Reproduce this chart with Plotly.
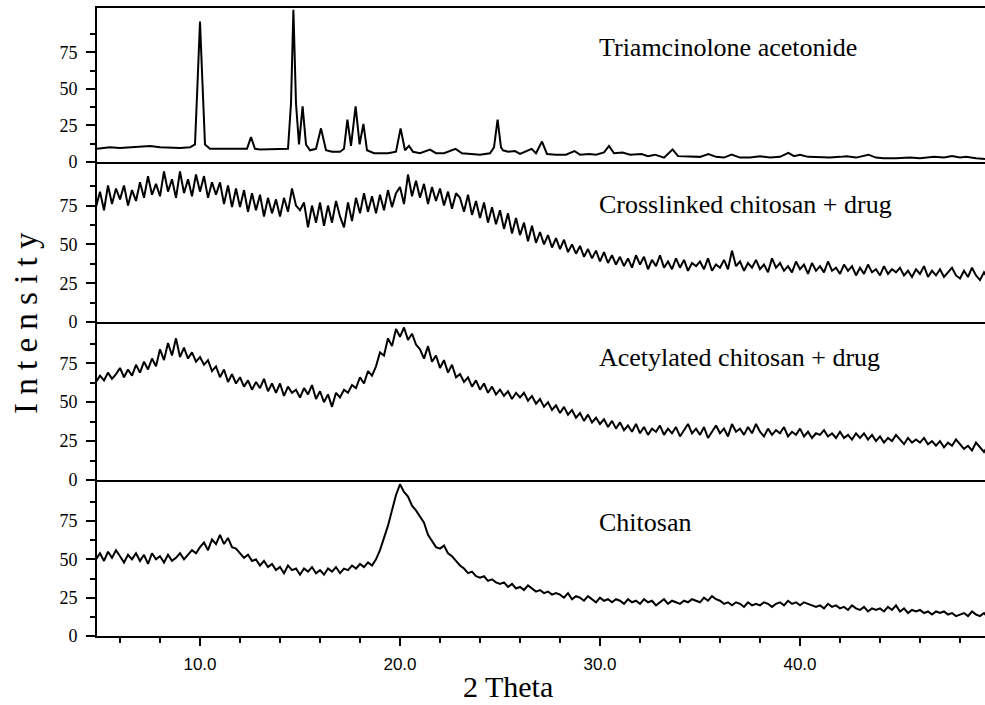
import numpy as np
import plotly.graph_objects as go
from plotly.subplots import make_subplots

# ---------------- data ----------------
# Triamcinolone acetonide: 2-theta / intensity pairs (peaks and baseline)
tri_x = [4.85, 5.5, 6.0, 6.5, 7.0, 7.5, 8.0, 8.5, 9.0, 9.5, 9.75, 9.88, 10.0, 10.12, 10.25,
         10.5, 11.0, 11.5, 12.0, 12.35, 12.55, 12.75, 13.0, 13.5, 14.0, 14.4, 14.55, 14.67,
         14.8, 14.95, 15.13, 15.3, 15.5, 15.8, 16.05, 16.3, 16.6, 17.0, 17.2, 17.37, 17.55,
         17.78, 17.98, 18.17, 18.35, 18.7, 19.0, 19.4, 19.8, 20.03, 20.25, 20.45, 20.65,
         21.0, 21.5, 21.8, 22.2, 22.78, 23.1, 23.5, 24.0, 24.5, 24.7, 24.88, 25.05, 25.15,
         25.4, 25.75, 26.0, 26.58, 26.8, 27.1, 27.35, 27.8, 28.3, 28.72, 29.0, 29.47, 29.8,
         30.2, 30.45, 30.7, 31.13, 31.5, 32.08, 32.4, 32.75, 33.2, 33.63, 33.9, 34.5, 35.0,
         35.42, 35.8, 36.2, 36.58, 37.0, 37.5, 38.0, 38.5, 39.0, 39.42, 39.7, 40.0, 40.4,
         41.0, 41.5, 42.0, 42.33, 42.8, 43.42, 43.8, 44.17, 44.8, 45.5, 46.0, 46.7, 47.2,
         47.6, 48.0, 48.3, 48.8, 49.25]
tri_y = [9, 10, 9.5, 10, 10, 11, 10, 9.5, 9.5, 10, 12, 55, 96, 55, 12,
         9, 9, 9.5, 9, 9, 17, 9, 8.5, 8.5, 8.5, 9, 40, 104,
         40, 12, 38, 12, 8, 9, 23, 8, 7, 7, 9, 29, 11,
         38, 12, 26, 8, 6, 6, 6, 7, 23, 8, 11, 7,
         6, 8.5, 6, 6, 9, 6, 5.5, 5, 6, 10, 29, 10, 8,
         7, 7.5, 5.5, 9, 6, 14, 5.5, 5, 5, 7.5, 5, 5.5, 5,
         6.5, 11, 6, 6.5, 5, 5.5, 4, 5, 3, 8.6, 4, 4, 3.5,
         5.4, 3.5, 3, 5, 3, 3, 4, 3, 3.5, 6.3, 4, 5, 3.5,
         3, 3, 3.5, 4, 3, 5, 3, 2.5, 2.5, 3, 2.5, 3.5, 3,
         4, 3, 3.5, 2.5, 2]

# regular 2-theta sampling of the three chitosan scans
grid_start = 4.8
grid_step = 0.2

crosslinked = [74,
    84, 72, 88, 76, 86,   79, 88, 75, 85, 78,   90, 80, 94, 82, 89,   81, 97, 84, 92, 80,
    97, 83, 92, 81, 95,   84, 94, 80, 90, 82,   90, 76, 88, 74, 86,   74, 85, 71, 83, 72,
    82, 68, 80, 70, 79,   68, 80, 71, 86, 75,   72, 77, 61, 75, 64,   77, 62, 75, 64, 78,
    68, 61, 77, 65, 80,   70, 83, 71, 81, 70,   82, 72, 85, 74, 83,   87, 76, 95, 81, 91,
    80, 89, 76, 87, 78,   86, 75, 84, 73, 83,   80, 71, 82, 69, 78,   67, 77, 64, 74, 63,
    72, 60, 70, 57, 67,   56, 64, 52, 62, 51,   58, 50, 56, 48, 54,   47, 53, 45, 50, 44,
    49, 42, 47, 41, 46,   39, 45, 38, 43, 37,   42, 36, 41, 35, 43,   37, 42, 34, 40, 36,
    43, 35, 39, 34, 41,   35, 40, 33, 38, 36,   39, 34, 41, 33, 37,   35, 40, 34, 46, 36,
    39, 33, 38, 35, 40,   34, 37, 32, 41, 35,   38, 33, 36, 32, 39,   34, 37, 31, 38, 33,
    36, 32, 39, 33, 35,   31, 37, 33, 36, 30,   35, 31, 37, 32, 34,   30, 36, 31, 34, 32,
    35, 30, 33, 29, 34,   31, 36, 29, 33, 30,   34, 29, 32, 35, 30,   28, 33, 29, 35, 30,
    27, 32, 28, 25, 26]

acetylated = [63,
    67, 64, 69, 65, 68,   72, 66, 71, 67, 74,   69, 76, 71, 78, 73,   84, 77, 88, 80, 91,
    79, 85, 78, 82, 76,   79, 74, 77, 70, 73,   66, 71, 63, 68, 62,   66, 60, 64, 58, 63,
    59, 65, 57, 62, 56,   62, 54, 60, 56, 58,   53, 59, 55, 61, 52,   57, 50, 55, 47, 56,
    53, 58, 56, 61, 59,   66, 62, 70, 67, 73,   82, 80, 91, 86, 97,   92, 98, 90, 94, 87,
    84, 78, 86, 76, 80,   72, 77, 69, 74, 66,   68, 63, 66, 60, 64,   58, 62, 56, 60, 55,
    58, 54, 57, 52, 56,   53, 56, 51, 54, 49,   52, 47, 50, 45, 48,   43, 47, 42, 45, 40,
    43, 38, 42, 37, 40,   36, 39, 34, 38, 33,   37, 32, 35, 31, 36,   30, 34, 29, 33, 31,
    35, 29, 33, 30, 34,   28, 32, 36, 30, 33,   29, 34, 27, 31, 35,   30, 33, 28, 36, 31,
    33, 29, 34, 30, 36,   31, 28, 33, 29, 32,   30, 34, 28, 31, 29,   33, 28, 31, 27, 30,
    29, 32, 28, 30, 27,   31, 27, 29, 26, 30,   27, 30, 26, 29, 25,   28, 24, 27, 25, 29,
    26, 23, 27, 24, 26,   24, 27, 23, 25, 22,   25, 21, 24, 22, 26,   23, 20, 22, 19, 24,
    21, 18, 22, 16, 19]

chitosan = [50,
    54, 49, 55, 51, 56,   52, 48, 53, 50, 54,   49, 53, 47, 54, 50,   52, 48, 53, 49, 51,
    54, 50, 53, 56, 54,   58, 61, 56, 63, 60,   66, 60, 64, 58, 57,   54, 51, 53, 49, 50,
    46, 49, 45, 47, 43,   45, 41, 46, 43, 44,   40, 44, 42, 45, 41,   43, 40, 44, 42, 45,
    41, 44, 43, 46, 44,   47, 45, 48, 46, 50,   56, 64, 72, 82, 92,   99, 94, 91, 85, 82,
    78, 74, 66, 62, 58,   57, 59, 54, 52, 49,   46, 44, 41, 42, 39,   38, 39, 36, 37, 35,
    34, 35, 32, 34, 31,   32, 30, 33, 31, 29,   30, 28, 29, 27, 28,   27, 25, 28, 24, 26,
    25, 23, 26, 24, 22,   25, 23, 24, 22, 24,   23, 21, 24, 22, 23,   21, 24, 22, 23, 20,
    22, 24, 21, 23, 22,   21, 23, 22, 24, 23,   22, 25, 23, 26, 24,   23, 21, 22, 20, 22,
    21, 19, 22, 20, 21,   20, 22, 21, 19, 21,   22, 20, 23, 21, 22,   20, 22, 21, 20, 19,
    20, 18, 21, 19, 20,   18, 19, 17, 20, 18,   17, 19, 16, 18, 17,   18, 16, 19, 17, 20,
    16, 18, 15, 17, 16,   17, 15, 16, 14, 16,   15, 16, 14, 15, 13,   14, 15, 13, 16, 14,
    13, 15, 12, 14, 13]

panel_labels = ["Triamcinolone acetonide", "Crosslinked chitosan + drug",
                "Acetylated chitosan + drug", "Chitosan"]
x_tick_vals = [10, 20, 30, 40]
x_tick_text = ["10.0", "20.0", "30.0", "40.0"]
y_tick_vals = [0, 25, 50, 75]
y_minor_vals = [12.5, 37.5, 62.5, 87.5]

# ---------------- figure ----------------
def grid(vals):
    return np.round(grid_start + grid_step * np.arange(len(vals)), 2)

SERIF = "Liberation Serif"
SANS = "Liberation Sans"

fig = make_subplots(rows=4, cols=1, shared_xaxes=True, vertical_spacing=0)

series = [(tri_x, tri_y), (grid(crosslinked), crosslinked),
          (grid(acetylated), acetylated), (grid(chitosan), chitosan)]
for i, (xs, ys) in enumerate(series, start=1):
    fig.add_trace(go.Scatter(x=xs, y=ys, mode="lines",
                             line=dict(color="black", width=2),
                             showlegend=False, hoverinfo="skip"), row=i, col=1)

domains = [[0.7548, 1.0], [0.5, 0.7548], [0.2484, 0.5], [0.0, 0.2484]]
yranges = [[0, 105.3], [0, 103.1], [0, 101.5], [0, 101.8]]
label_y = [78, 75.5, 78.5, 74]

for i in range(1, 5):
    fig.update_yaxes(row=i, col=1, domain=domains[i - 1], range=yranges[i - 1],
                     showline=True, linewidth=2, linecolor="black",
                     showgrid=False, zeroline=False,
                     ticks="outside", tickvals=y_tick_vals, ticklen=9, tickwidth=2,
                     tickcolor="black", ticklabelstandoff=5,
                     tickfont=dict(family=SERIF, size=18, color="black"),
                     minor=dict(tickmode="array", tickvals=y_minor_vals, ticks="outside",
                                ticklen=5, tickwidth=1.5, tickcolor="black", showgrid=False))
    fig.update_xaxes(row=i, col=1, range=[4.85, 49.25],
                     showline=True, linewidth=2, linecolor="black",
                     showgrid=False, zeroline=False, mirror=(i == 1))
    if i < 4:
        fig.update_xaxes(row=i, col=1, showticklabels=False, ticks="")
    else:
        fig.update_xaxes(row=i, col=1, ticks="outside", tickvals=x_tick_vals,
                         ticktext=x_tick_text, ticklen=8, tickwidth=2, tickcolor="black",
                         ticklabelstandoff=4,
                         tickfont=dict(family=SANS, size=17, color="black"),
                         minor=dict(dtick=2, tick0=0, ticks="outside", ticklen=5,
                                    tickwidth=1.5, tickcolor="black", showgrid=False))
    fig.add_annotation(x=29.85, y=label_y[i - 1], xref=f"x{i}" if i > 1 else "x",
                       yref=f"y{i}" if i > 1 else "y", text=panel_labels[i - 1],
                       showarrow=False, xanchor="left", yanchor="middle",
                       font=dict(family=SERIF, size=26, color="black"))

# axis titles as annotations
fig.add_annotation(x=(508 - 97) / 888, y=-(686 - 636) / 628, xref="paper", yref="paper",
                   text="2 Theta", showarrow=False, xanchor="center", yanchor="middle",
                   font=dict(family=SERIF, size=30, color="black"))
fig.add_annotation(x=(26 - 97) / 888, y=(636 - 323) / 628, xref="paper", yref="paper",
                   text="I n t e n s i t y", textangle=-90, showarrow=False,
                   xanchor="center", yanchor="middle",
                   font=dict(family=SERIF, size=33, color="black"))

fig.update_layout(width=985, height=705,
                  margin=dict(l=97, r=0, t=8, b=69),
                  paper_bgcolor="white", plot_bgcolor="white")

fig.write_html("out.html")
